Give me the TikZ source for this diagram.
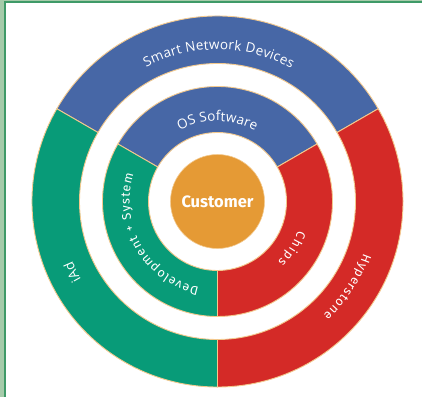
\documentclass[tikz,border=0pt]{standalone}
\usepackage{fontspec}
\setmainfont{Open Sans}
\newfontfamily\labelsans{Open Sans}
\newfontfamily\labelsquare{Fira Sans}
\usetikzlibrary{decorations.text}

\definecolor{segblue}{HTML}{4767A6}
\definecolor{seggreen}{HTML}{089B78}
\definecolor{segred}{HTML}{D42A27}
\definecolor{custorange}{HTML}{E59A35}
\definecolor{segedge}{HTML}{F3C98E}
\definecolor{framelight}{HTML}{A6CBAA}
\definecolor{framedark}{HTML}{3F9A68}

% annular segment: colour, start angle, end angle, inner radius, outer radius
\newcommand{\annseg}[5]{%
  \filldraw[seg, fill=#1] (#2:#5) arc[start angle=#2, end angle=#3, radius=#5]
    -- (#3:#4) arc[start angle=#3, end angle=#2, radius=#4] -- cycle;}

\begin{document}
\begin{tikzpicture}[x=1pt, y=1pt,
  seg/.style={draw=segedge, line width=0.9pt, line join=round},
  ringtext/.style={decorate, decoration={text along path, text color=white,
      text={|\labelsans\fontsize{13.5}{15}\selectfont|#1}, text align={fit to path}}},
  ringtextc/.style={decorate, decoration={text along path, text color=white,
      text={|\labelsans\fontsize{13.5}{15}\selectfont|#1}, text align=center}},
  squaretext/.style={decorate, decoration={text along path, text color=white,
      text={|\labelsquare\fontsize{12.5}{14}\selectfont|#1}, text align={fit to path}}}]

\useasboundingbox (0,0) rectangle (422,397);

% page frame
\fill[framelight] (0,0) rectangle (4,397);
\fill[framelight] (0,396) rectangle (422,397);
\fill[framedark] (4,0) rectangle (6,396);
\fill[framedark] (4,394) rectangle (422,396);

\begin{scope}[shift={(217.5,195.5)}]
  % outer ring
  \annseg{segblue}{30}{150}{138}{185.5}
  \annseg{seggreen}{150}{270}{138}{185.5}
  \annseg{segred}{-90}{30}{138}{185.5}
  % middle ring
  \annseg{segblue}{30}{150}{69}{115}
  \annseg{seggreen}{150}{270}{69}{115}
  \annseg{segred}{-90}{30}{69}{115}

  % centre
  \node[circle, fill=custorange, draw=segedge, line width=0.6pt, minimum size=94pt,
        inner sep=0pt, text=white, font=\labelsquare\bfseries\fontsize{16.5}{19}\selectfont]
        (customer) at (0,0) {Customer};

  % ring labels
  \path[ringtext={Smart Network Devices}] (118:152) arc[start angle=118, end angle=61, radius=152];
  \path[ringtext={OS Software}] (118:80.5) arc[start angle=118, end angle=62, radius=80.5];
  \path[ringtextc={iAd}] (240:157) arc[start angle=240, end angle=172, radius=157];
  \path[squaretext={Development + System}] (258:88) arc[start angle=258, end angle=162, radius=88];
  \path[squaretext={Chips}] (-19.5:85.5) arc[start angle=-19.5, end angle=-45, radius=85.5];
  \path[squaretext={Hyperstone}] (-19.5:155) arc[start angle=-19.5, end angle=-47, radius=155];
\end{scope}
\end{tikzpicture}
\end{document}
